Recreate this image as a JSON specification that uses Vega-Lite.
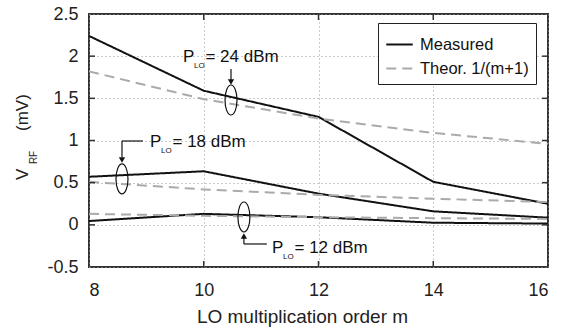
{
  "$schema": "https://vega.github.io/schema/vega-lite/v6.json",
  "width": 459,
  "height": 253,
  "autosize": {"type": "none"},
  "padding": {"left": 89, "top": 14, "right": 13, "bottom": 62},
  "background": "white",
  "config": {
    "font": "Liberation Sans",
    "view": {"stroke": "#333333", "strokeWidth": 2}
  },
  "encoding": {
    "x": {
      "field": "m", "type": "quantitative",
      "scale": {"domain": [8, 16], "nice": false, "zero": false},
      "axis": {
        "values": [8, 10, 12, 14, 16],
        "format": "d",
        "title": "LO multiplication order m",
        "titleX": 213,
        "titleFontSize": 19, "titleFontWeight": "normal", "titleColor": "#222222",
        "titlePadding": 8,
        "labelFontSize": 18, "labelColor": "#222222", "labelPadding": 14,
        "grid": true, "gridDash": [1, 3], "gridColor": "#999999", "gridWidth": 1,
        "ticks": false,
        "domain": false
      }
    },
    "y": {
      "field": "v", "type": "quantitative",
      "scale": {"domain": [-0.5, 2.5], "nice": false, "zero": false},
      "axis": {
        "values": [-0.5, 0, 0.5, 1, 1.5, 2, 2.5],
        "labelExpr": "datum.value == -0.5 ? '-0.5' : format(datum.value, '~g')",
        "title": null,
        "labelFontSize": 18, "labelColor": "#222222", "labelPadding": 11,
        "grid": true, "gridDash": [1, 3], "gridColor": "#999999", "gridWidth": 1,
        "ticks": false,
        "domain": false
      }
    }
  },
  "layer": [
    {
      "data": {"values": [
        {"m": 8, "v": 2.24, "series": "24", "type": "Measured"},
        {"m": 10, "v": 1.59, "series": "24", "type": "Measured"},
        {"m": 12, "v": 1.28, "series": "24", "type": "Measured"},
        {"m": 14, "v": 0.51, "series": "24", "type": "Measured"},
        {"m": 16, "v": 0.25, "series": "24", "type": "Measured"},
        {"m": 8, "v": 0.57, "series": "18", "type": "Measured"},
        {"m": 10, "v": 0.635, "series": "18", "type": "Measured"},
        {"m": 12, "v": 0.37, "series": "18", "type": "Measured"},
        {"m": 14, "v": 0.16, "series": "18", "type": "Measured"},
        {"m": 16, "v": 0.085, "series": "18", "type": "Measured"},
        {"m": 8, "v": 0.045, "series": "12", "type": "Measured"},
        {"m": 10, "v": 0.13, "series": "12", "type": "Measured"},
        {"m": 12, "v": 0.09, "series": "12", "type": "Measured"},
        {"m": 14, "v": 0.025, "series": "12", "type": "Measured"},
        {"m": 16, "v": 0.015, "series": "12", "type": "Measured"},
        {"m": 8, "v": 1.82, "series": "24", "type": "Theor. 1/(m+1)"},
        {"m": 10, "v": 1.49, "series": "24", "type": "Theor. 1/(m+1)"},
        {"m": 12, "v": 1.26, "series": "24", "type": "Theor. 1/(m+1)"},
        {"m": 14, "v": 1.09, "series": "24", "type": "Theor. 1/(m+1)"},
        {"m": 16, "v": 0.96, "series": "24", "type": "Theor. 1/(m+1)"},
        {"m": 8, "v": 0.51, "series": "18", "type": "Theor. 1/(m+1)"},
        {"m": 10, "v": 0.42, "series": "18", "type": "Theor. 1/(m+1)"},
        {"m": 12, "v": 0.355, "series": "18", "type": "Theor. 1/(m+1)"},
        {"m": 14, "v": 0.31, "series": "18", "type": "Theor. 1/(m+1)"},
        {"m": 16, "v": 0.27, "series": "18", "type": "Theor. 1/(m+1)"},
        {"m": 8, "v": 0.13, "series": "12", "type": "Theor. 1/(m+1)"},
        {"m": 10, "v": 0.107, "series": "12", "type": "Theor. 1/(m+1)"},
        {"m": 12, "v": 0.09, "series": "12", "type": "Theor. 1/(m+1)"},
        {"m": 14, "v": 0.079, "series": "12", "type": "Theor. 1/(m+1)"},
        {"m": 16, "v": 0.07, "series": "12", "type": "Theor. 1/(m+1)"}
      ]},
      "mark": {"type": "line", "strokeWidth": 2},
      "encoding": {
        "color": {
          "field": "type", "type": "nominal",
          "scale": {"domain": ["Measured", "Theor. 1/(m+1)"], "range": ["#111111", "#aaaaaa"]},
          "legend": {
            "title": null, "orient": "none", "legendX": 289, "legendY": 9,
            "strokeColor": "#222222", "fillColor": "white", "padding": 7,
            "symbolType": "stroke", "symbolSize": 700, "symbolStrokeWidth": 2,
            "labelFontSize": 16.5, "labelColor": "#111111", "rowPadding": 1, "labelOffset": 6
          }
        },
        "strokeDash": {
          "field": "type", "type": "nominal",
          "scale": {"domain": ["Measured", "Theor. 1/(m+1)"], "range": [[1, 0], [10, 6]]},
          "legend": {
            "title": null, "orient": "none", "legendX": 289, "legendY": 9,
            "strokeColor": "#222222", "fillColor": "white", "padding": 7,
            "symbolType": "stroke", "symbolSize": 700, "symbolStrokeWidth": 2,
            "labelFontSize": 16.5, "labelColor": "#111111", "rowPadding": 1, "labelOffset": 6
          }
        },
        "detail": {"field": "series"}
      }
    },
    {
      "data": {"values": [
        {"m": 8, "v": 0}, {"m": 8, "v": 0.5}, {"m": 8, "v": 1}, {"m": 8, "v": 1.5}, {"m": 8, "v": 2},
        {"m": 16, "v": 0}, {"m": 16, "v": 0.5}, {"m": 16, "v": 1}, {"m": 16, "v": 1.5}, {"m": 16, "v": 2}
      ]},
      "mark": {"type": "tick", "orient": "horizontal", "size": 12, "thickness": 1.5, "color": "#333333", "clip": true, "opacity": 1}
    },
    {
      "data": {"values": [
        {"m": 10, "v": 2.5}, {"m": 12, "v": 2.5}, {"m": 14, "v": 2.5},
        {"m": 10, "v": -0.5}, {"m": 12, "v": -0.5}, {"m": 14, "v": -0.5}
      ]},
      "mark": {"type": "tick", "orient": "vertical", "size": 12, "thickness": 1.5, "color": "#333333", "clip": true, "opacity": 1}
    },
    {
      "data": {"values": [
        {"m": 10.475, "v": 1.48},
        {"m": 8.575, "v": 0.544},
        {"m": 10.70, "v": 0.093}
      ]},
      "mark": {"type": "point", "shape": "M0,-1A0.4,1,0,1,1,0,1A0.4,1,0,1,1,0,-1Z", "size": 900, "filled": false, "stroke": "#111111", "strokeWidth": 1.2, "opacity": 1}
    },
    {
      "data": {"values": [
        {"m": 10.475, "v": 1.848, "m2": 10.475, "v2": 1.70},
        {"m": 8.575, "v": 0.994, "m2": 8.94, "v2": 0.994},
        {"m": 8.575, "v": 0.994, "m2": 8.575, "v2": 0.80},
        {"m": 10.70, "v": -0.227, "m2": 11.10, "v2": -0.227},
        {"m": 10.70, "v": -0.227, "m2": 10.70, "v2": -0.15}
      ]},
      "mark": {"type": "rule", "stroke": "#111111", "strokeWidth": 1.2},
      "encoding": {
        "x2": {"field": "m2"},
        "y2": {"field": "v2"}
      }
    },
    {
      "data": {"values": [
        {"m": 10.475, "v": 1.694, "dir": "triangle-down"},
        {"m": 8.575, "v": 0.769, "dir": "triangle-down"},
        {"m": 10.70, "v": -0.132, "dir": "triangle-up"}
      ]},
      "mark": {"type": "point", "filled": true, "color": "#111111", "size": 40, "opacity": 1},
      "encoding": {
        "shape": {"field": "dir", "type": "nominal", "scale": {"domain": ["triangle-down", "triangle-up"], "range": ["triangle-down", "triangle-up"]}, "legend": null}
      }
    },
    {
      "data": {"values": [
        {"m": 9.638, "v": 1.931, "t": "P"},
        {"m": 10.03, "v": 1.931, "t": "= 24 dBm"},
        {"m": 9.063, "v": 0.923, "t": "P"},
        {"m": 9.455, "v": 0.923, "t": "= 18 dBm"},
        {"m": 11.19, "v": -0.334, "t": "P"},
        {"m": 11.582, "v": -0.334, "t": "= 12 dBm"}
      ]},
      "mark": {"type": "text", "align": "left", "baseline": "alphabetic", "fontSize": 17, "color": "#111111"},
      "encoding": {
        "text": {"field": "t"}
      }
    },
    {
      "data": {"values": [
        {"m": 9.83, "v": 1.855, "t": "LO"},
        {"m": 9.255, "v": 0.846, "t": "LO"},
        {"m": 11.381, "v": -0.40, "t": "LO"}
      ]},
      "mark": {"type": "text", "align": "left", "baseline": "alphabetic", "fontSize": 8, "color": "#111111"},
      "encoding": {
        "text": {"field": "t"}
      }
    },
    {
      "data": {"values": [
        {"m": 8, "v": 0.532, "t": "V"},
        {"m": 8, "v": 1.113, "t": "(mV)"}
      ]},
      "mark": {"type": "text", "align": "left", "baseline": "alphabetic", "angle": 270, "dy": -61, "fontSize": 17, "color": "#222222"},
      "encoding": {
        "text": {"field": "t"}
      }
    },
    {
      "data": {"values": [
        {"m": 8, "v": 0.72, "t": "RF"}
      ]},
      "mark": {"type": "text", "align": "left", "baseline": "alphabetic", "angle": 270, "dy": -52, "fontSize": 10, "color": "#222222"},
      "encoding": {
        "text": {"field": "t"}
      }
    }
  ]
}
